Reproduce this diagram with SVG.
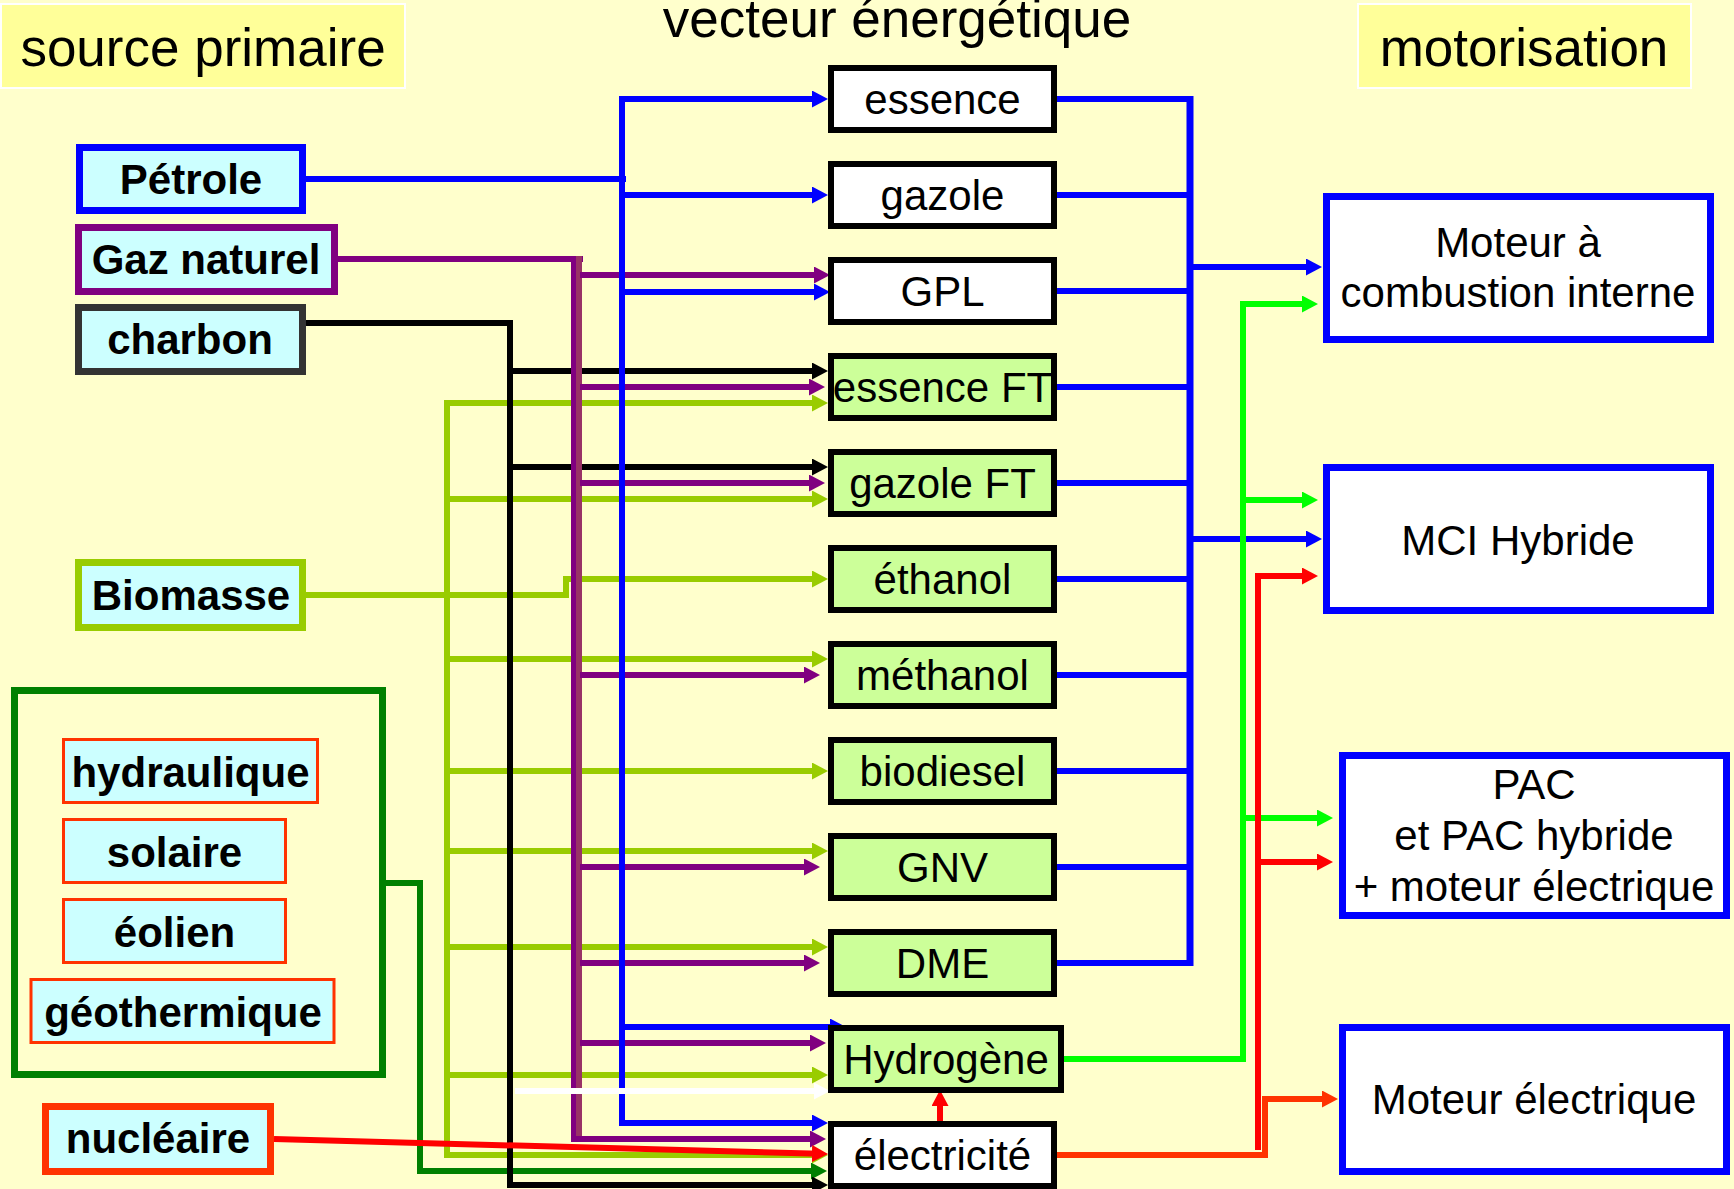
<svg xmlns="http://www.w3.org/2000/svg" width="1734" height="1189" viewBox="0 0 1734 1189">
<style>
text{font-family:"Liberation Sans",Arial,sans-serif;fill:#000}
.t{font-size:53px;text-anchor:middle}
.s{font-size:42px;font-weight:bold;text-anchor:middle}
.v{font-size:42px;text-anchor:middle}
.c{fill:none;stroke-width:6;stroke-linejoin:miter;stroke-linecap:butt}
.src{fill:#CCFFFF;stroke-width:7}
.ren{fill:#CCFFFF;stroke:#FF3300;stroke-width:3}
.vw{fill:#FFFFFF;stroke:#000;stroke-width:6}
.vg{fill:#CCFF99;stroke:#000;stroke-width:6}
.mot{fill:#FFFFFF;stroke:#0000FF;stroke-width:7}
.hd{fill:#FFFF99;stroke:#FFFFFF;stroke-width:2}
</style>
<defs>
<marker id="mb" markerUnits="userSpaceOnUse" markerWidth="16" markerHeight="17" viewBox="0 0 16 17" refX="8" refY="8.5" orient="auto"><path d="M0,0 L16,8.5 L0,17 z" fill="#0000FF"/></marker>
<marker id="mp" markerUnits="userSpaceOnUse" markerWidth="16" markerHeight="17" viewBox="0 0 16 17" refX="8" refY="8.5" orient="auto"><path d="M0,0 L16,8.5 L0,17 z" fill="#800080"/></marker>
<marker id="mk" markerUnits="userSpaceOnUse" markerWidth="16" markerHeight="17" viewBox="0 0 16 17" refX="8" refY="8.5" orient="auto"><path d="M0,0 L16,8.5 L0,17 z" fill="#000000"/></marker>
<marker id="my" markerUnits="userSpaceOnUse" markerWidth="16" markerHeight="17" viewBox="0 0 16 17" refX="8" refY="8.5" orient="auto"><path d="M0,0 L16,8.5 L0,17 z" fill="#99CC00"/></marker>
<marker id="mg" markerUnits="userSpaceOnUse" markerWidth="16" markerHeight="17" viewBox="0 0 16 17" refX="8" refY="8.5" orient="auto"><path d="M0,0 L16,8.5 L0,17 z" fill="#008000"/></marker>
<marker id="mr" markerUnits="userSpaceOnUse" markerWidth="16" markerHeight="17" viewBox="0 0 16 17" refX="8" refY="8.5" orient="auto"><path d="M0,0 L16,8.5 L0,17 z" fill="#FF0000"/></marker>
<marker id="mo" markerUnits="userSpaceOnUse" markerWidth="16" markerHeight="17" viewBox="0 0 16 17" refX="8" refY="8.5" orient="auto"><path d="M0,0 L16,8.5 L0,17 z" fill="#FF3300"/></marker>
<marker id="ml" markerUnits="userSpaceOnUse" markerWidth="16" markerHeight="17" viewBox="0 0 16 17" refX="8" refY="8.5" orient="auto"><path d="M0,0 L16,8.5 L0,17 z" fill="#00FF00"/></marker>
<marker id="mw" markerUnits="userSpaceOnUse" markerWidth="16" markerHeight="17" viewBox="0 0 16 17" refX="8" refY="8.5" orient="auto"><path d="M0,0 L16,8.5 L0,17 z" fill="#FFFFFF"/></marker>
</defs>
<rect x="0" y="0" width="1734" height="1189" fill="#FFFFCC"/>

<g id="headers">
<rect class="hd" x="1" y="4" width="404" height="84"/>
<text class="t" x="203" y="66">source primaire</text>
<text class="t" x="897" y="37">vecteur énergétique</text>
<rect class="hd" x="1358" y="4" width="333" height="84"/>
<text class="t" x="1524" y="66">motorisation</text>
</g>

<g id="connectors">
<!-- yellowgreen (Biomasse) -->
<g class="c" stroke="#99CC00" marker-end="url(#my)">
<path d="M447,400 V1158" marker-end="none"/>
<path d="M444,403 H820"/>
<path d="M447,499 H820"/>
<path d="M447,659 H820"/>
<path d="M447,771 H820"/>
<path d="M447,851 H820"/>
<path d="M447,947 H820"/>
<path d="M447,1075 H820"/>
<path d="M444,1155 H820"/>
<path d="M306,595 H566 V579 H820"/>
</g>
<!-- dark green (renewables) -->
<path class="c" stroke="#008000" d="M386,883 H420 V1171 H819" marker-end="url(#mg)"/>
<!-- black (charbon) -->
<g class="c" stroke="#000000" marker-end="url(#mk)">
<path d="M306,323 H510 V1185 H820"/>
<path d="M510,371 H820"/>
<path d="M510,467 H820"/>
</g>
<!-- purple (Gaz naturel) -->
<path class="c" stroke="#800080" d="M338,259 H583"/>
<path class="c" stroke="#800080" stroke-width="5" d="M574,256 V1142"/>
<path class="c" stroke="#993366" stroke-width="7" d="M579,256 V1142"/>
<g class="c" stroke="#800080" marker-end="url(#mp)">
<path d="M580,275 H822"/>
<path d="M580,387 H817"/>
<path d="M580,483 H817"/>
<path d="M580,675 H812"/>
<path d="M580,867 H812"/>
<path d="M580,963 H812"/>
<path d="M580,1043 H818"/>
<path d="M572,1139 H818"/>
</g>
<!-- blue (Pétrole) -->
<path class="c" stroke="#0000FF" d="M306,179 H626"/>
<g class="c" stroke="#0000FF" marker-end="url(#mb)">
<path d="M622,1123 V99 H820"/>
<path d="M622,195 H820"/>
<path d="M622,292 H822"/>
<path d="M622,1027 H838"/>
<path d="M619,1123 H820"/>
</g>
<!-- white -->
<path class="c" stroke="#FFFFFF" d="M515,1091 H822" marker-end="url(#mw)"/>
<!-- red (nucléaire) -->
<path class="c" stroke="#FF0000" stroke-width="7" d="M274,1139 L820,1153.8" marker-end="url(#mr)"/>
<path class="c" stroke="#FF0000" d="M940,1121 V1098" marker-end="url(#mr)"/>

<!-- right side blue -->
<g class="c" stroke="#0000FF">
<path d="M1057,99 H1193"/>
<path d="M1057,195 H1193"/>
<path d="M1057,291 H1193"/>
<path d="M1057,387 H1193"/>
<path d="M1057,483 H1193"/>
<path d="M1057,579 H1193"/>
<path d="M1057,675 H1193"/>
<path d="M1057,771 H1193"/>
<path d="M1057,867 H1193"/>
<path d="M1057,963 H1193"/>
<path d="M1190,96 V966" stroke-width="7"/>
<path d="M1190,267 H1314" marker-end="url(#mb)"/>
<path d="M1190,539 H1314" marker-end="url(#mb)"/>
</g>
<!-- green (Hydrogène) -->
<g class="c" stroke="#00FF00" marker-end="url(#ml)">
<path d="M1064,1059 H1243 V304 H1310"/>
<path d="M1243,500 H1310"/>
<path d="M1243,818 H1325"/>
</g>
<!-- red (électricité) -->
<g class="c" stroke="#FF0000" marker-end="url(#mr)">
<path d="M1258,1150 V576 H1310"/>
<path d="M1258,862 H1325"/>
</g>
<path class="c" stroke="#FF3300" d="M1057,1155 H1265 V1099 H1330" marker-end="url(#mo)"/>
</g>

<g id="petrole"><rect class="src" stroke="#0000FF" x="79.5" y="147.5" width="223" height="63"/><text class="s" x="191" y="194">Pétrole</text></g>
<g id="gaz-naturel"><rect class="src" stroke="#800080" x="78.5" y="227.5" width="256" height="64"/><text class="s" x="206" y="274">Gaz naturel</text></g>
<g id="charbon"><rect class="src" stroke="#333333" x="78.5" y="307.5" width="224" height="64"/><text class="s" x="190" y="354">charbon</text></g>
<g id="biomasse"><rect class="src" stroke="#99CC00" x="78.5" y="562.5" width="224" height="65"/><text class="s" x="191" y="610">Biomasse</text></g>
<g id="renouvelables">
<rect x="14.5" y="690.5" width="368" height="384" fill="none" stroke="#008000" stroke-width="7"/>
<g id="hydraulique"><rect class="ren" x="63.5" y="739.5" width="254" height="63"/><text class="s" x="190.5" y="787">hydraulique</text></g>
<g id="solaire"><rect class="ren" x="63.5" y="819.5" width="222" height="63"/><text class="s" x="174.5" y="867">solaire</text></g>
<g id="eolien"><rect class="ren" x="63.5" y="899.5" width="222" height="63"/><text class="s" x="174.5" y="947">éolien</text></g>
<g id="geothermique"><rect class="ren" x="31" y="979.5" width="303" height="63"/><text class="s" x="183" y="1027">géothermique</text></g>
</g>
<g id="nucleaire"><rect class="src" stroke="#FF3300" x="45.5" y="1106.5" width="225" height="65"/><text class="s" x="158" y="1153">nucléaire</text></g>

<g id="essence"><rect class="vw" x="831" y="68" width="223" height="62"/><text class="v" x="942.5" y="114">essence</text></g>
<g id="gazole"><rect class="vw" x="831" y="164" width="223" height="62"/><text class="v" x="942.5" y="210">gazole</text></g>
<g id="gpl"><rect class="vw" x="831" y="260" width="223" height="62"/><text class="v" x="942.5" y="306">GPL</text></g>
<g id="essence-ft"><rect class="vg" x="831" y="356" width="223" height="62"/><text class="v" x="942.5" y="402">essence FT</text></g>
<g id="gazole-ft"><rect class="vg" x="831" y="452" width="223" height="62"/><text class="v" x="942.5" y="498">gazole FT</text></g>
<g id="ethanol"><rect class="vg" x="831" y="548" width="223" height="62"/><text class="v" x="942.5" y="594">éthanol</text></g>
<g id="methanol"><rect class="vg" x="831" y="644" width="223" height="62"/><text class="v" x="942.5" y="690">méthanol</text></g>
<g id="biodiesel"><rect class="vg" x="831" y="740" width="223" height="62"/><text class="v" x="942.5" y="786">biodiesel</text></g>
<g id="gnv"><rect class="vg" x="831" y="836" width="223" height="62"/><text class="v" x="942.5" y="882">GNV</text></g>
<g id="dme"><rect class="vg" x="831" y="932" width="223" height="62"/><text class="v" x="942.5" y="978">DME</text></g>
<g id="hydrogene"><rect class="vg" x="831" y="1028" width="230" height="62"/><text class="v" x="946" y="1074">Hydrogène</text></g>
<g id="electricite"><rect class="vw" x="831" y="1124" width="223" height="62"/><text class="v" x="942.5" y="1170">électricité</text></g>

<g id="moteur-combustion"><rect class="mot" x="1326.5" y="196.5" width="384" height="143"/><text class="v" x="1518" y="257">Moteur à</text><text class="v" x="1518" y="307">combustion interne</text></g>
<g id="mci-hybride"><rect class="mot" x="1326.5" y="467.5" width="384" height="143"/><text class="v" x="1518" y="555">MCI Hybride</text></g>
<g id="pac"><rect class="mot" x="1342.5" y="755.5" width="384" height="160"/><text class="v" x="1534" y="799">PAC</text><text class="v" x="1534" y="850">et PAC hybride</text><text class="v" x="1534" y="901">+ moteur électrique</text></g>
<g id="moteur-electrique"><rect class="mot" x="1342.5" y="1027.5" width="384" height="144"/><text class="v" x="1534" y="1114">Moteur électrique</text></g>
</svg>
